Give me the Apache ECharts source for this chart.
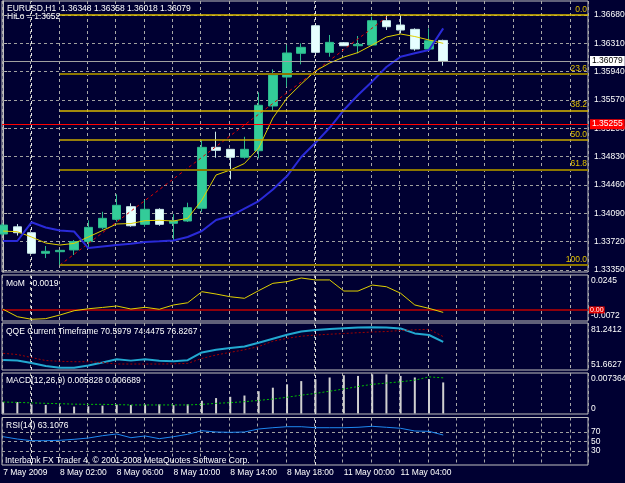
<!DOCTYPE html>
<html>
<head>
<meta charset="utf-8">
<script src="https://cdn.jsdelivr.net/npm/echarts@6/dist/echarts.min.js"></script>
<style>
html,body{margin:0;padding:0;background:#000032;}
#chart{width:625px;height:483px;}
</style>
</head>
<body>
<div id="chart"></div>
<script>
// EURUSD H1, one entry per bar
var timeLabels = ['7 May 2009','8 May 02:00','8 May 06:00','8 May 10:00','8 May 14:00','8 May 18:00','11 May 00:00','11 May 04:00'];
var labelBars = [0,4,8,12,16,20,24,28];
var gridStep = 2;
var separatorBars = [2,22];

var opens  = [1.33820,1.33914,1.33837,1.33568,1.33589,1.33612,1.33721,1.33902,1.34012,1.34177,1.33946,1.34142,1.33960,1.33990,1.34156,1.34952,1.34926,1.34822,1.34908,1.35492,1.35870,1.36180,1.36540,1.36193,1.36318,1.36279,1.36288,1.36606,1.36549,1.36493,1.36236,1.36348];
var closes = [1.33937,1.33837,1.33569,1.33594,1.33607,1.33721,1.33907,1.34025,1.34195,1.33928,1.34143,1.33946,1.33990,1.34164,1.34952,1.34913,1.34822,1.34926,1.35501,1.35896,1.36184,1.36258,1.36193,1.36323,1.36279,1.36297,1.36606,1.36527,1.36484,1.36236,1.36344,1.36079];
var lows   = [1.33800,1.33800,1.33559,1.33506,1.33415,1.33546,1.33627,1.33881,1.33981,1.33915,1.33915,1.33928,1.33742,1.33977,1.34111,1.34816,1.34534,1.34803,1.34809,1.35430,1.35744,1.36036,1.36180,1.36135,1.36275,1.36180,1.36279,1.36484,1.36441,1.36214,1.36223,1.36018];
var highs  = [1.33960,1.33950,1.33846,1.33663,1.33610,1.33742,1.33999,1.34111,1.34338,1.34221,1.34264,1.34156,1.34081,1.34229,1.35048,1.35156,1.34930,1.35090,1.35670,1.35971,1.36288,1.36310,1.36549,1.36419,1.36327,1.36406,1.36658,1.36667,1.36680,1.36506,1.36506,1.36358];

var maFast = [1.33859,1.33850,1.33781,1.33702,1.33676,1.33698,1.33781,1.33866,1.33951,1.33957,1.33994,1.33999,1.33990,1.34025,1.34264,1.34591,1.34656,1.34741,1.34943,1.35335,1.35596,1.35779,1.35949,1.36053,1.36131,1.36190,1.36288,1.36393,1.36432,1.36399,1.36354,1.36310];
var maSlow = [1.33729,1.33729,1.33973,1.33905,1.33866,1.33853,1.33637,1.33657,1.33676,1.33693,1.33715,1.33724,1.33735,1.33781,1.33859,1.34003,1.34055,1.34153,1.34251,1.34401,1.34577,1.34826,1.35011,1.35207,1.35439,1.35635,1.35813,1.36001,1.36135,1.36180,1.36223,1.36506];
var trendLine = [[4,1.33415],[27,1.36650]];

var fibHigh = 1.36680, fibLow = 1.33415;
var fibLevels = [0,23.6,38.2,50,61.8,100];
var priceTicks = [1.33350,1.33720,1.34090,1.34460,1.34830,1.35200,1.35570,1.35940,1.36310,1.36680];
var bidPrice = 1.36079, alertPrice = 1.35255;

var mom = [0.0005,-0.0052,-0.0072,-0.0067,-0.0039,-0.0006,0.0009,0.0019,0.0030,0.0007,0.0020,0.0005,0.0038,0.0055,0.0140,0.0122,0.0101,0.0089,0.0148,0.0204,0.0217,0.0245,0.0230,0.0230,0.0145,0.0145,0.0191,0.0178,0.0128,0.0038,0.0012,-0.0019];
var momLabels = ['0.0245','-0.0072'];

var qqeMain = [57.30,56.94,55.11,52.91,51.66,51.66,53.28,55.47,57.82,56.86,57.82,56.79,56.43,57.16,62.87,64.77,66.09,67.19,69.89,72.90,75.82,78.17,79.26,80.00,80.51,81.02,81.24,81.09,80.36,76.80,75.60,70.5979];
var qqeSignal = [62.21,61.33,59.13,56.94,56.35,56.06,56.06,55.47,54.37,54.37,54.37,54.37,54.52,54.81,58.48,60.96,62.94,64.77,67.19,71.07,73.19,74.73,75.60,76.19,76.70,77.29,77.80,78.17,78.90,79.41,79.78,74.4475];
var qqeLabels = ['81.2412','51.6627'];

var macdHist = [0.00215,0.00215,0.00169,0.00160,0.00134,0.00129,0.00134,0.00147,0.00166,0.00160,0.00166,0.00172,0.00156,0.00172,0.00239,0.00289,0.00313,0.00337,0.00418,0.00484,0.00547,0.00608,0.00644,0.00676,0.00718,0.00705,0.007364,0.00735,0.00705,0.00676,0.00644,0.005828];
var macdSignal = [0.00215,0.00208,0.00199,0.00190,0.00184,0.00175,0.00171,0.00171,0.00166,0.00160,0.00160,0.00160,0.00160,0.00160,0.00171,0.00190,0.00203,0.00221,0.00245,0.00271,0.00304,0.00344,0.00377,0.00418,0.00460,0.00506,0.00547,0.00571,0.00595,0.00626,0.00687,0.006689];
var macdLabels = ['0.007364','0'];

var rsi = [59.6,54.7,51.2,51.2,52.0,54.1,56.8,61.7,65.3,57.5,61.1,55.4,59.6,64.6,72.2,69.5,68.8,69.5,75.8,78.5,80.6,80.6,78.5,78.5,78.5,79.4,81.5,79.4,77.3,71.6,70.9,63.1076];
var rsiLevels = [30,50,70];
var rsiLabels = ['100','70','50','30','0'];

var font = 'Liberation Sans';
var fs = 8.5;
var xMin = -0.08, xMax = 41.2;

// panel layout: top, height, y min, y max
var panels = [
  [1, 271, 1.33324, 1.36863],
  [275, 46, -0.0085, 0.0268],
  [323, 47, 50.0, 84.4],
  [373, 41, -0.0001, 0.0076],
  [417.5, 47.5, 0, 100]
];

function pairs(arr) { return arr.map(function (v, i) { return [i, v]; }); }
function nearestLabel(pos, txt) {
  return function (v) {
    var best = 0;
    for (var k = 1; k < pos.length; k++) if (Math.abs(pos[k] - v) < Math.abs(pos[best] - v)) best = k;
    return txt[best];
  };
}
function dashed(color) { return {color: color, type: [3,3], width: 1}; }
// day separators and horizontal levels as markLines behind the data
function gridSeries(g, yVals) {
  var lo = panels[g][2], hi = panels[g][3];
  var data = separatorBars.map(function (b) {
      return [{coord: [b, lo], lineStyle: dashed('#e4e4e4')}, {coord: [b, hi]}];
    })
    .concat((yVals || []).map(function (v) { return {yAxis: v, lineStyle: dashed('#a0a0a0')}; }));
  return {
    type: 'line', xAxisIndex: g, yAxisIndex: g, data: [], z: 1,
    markLine: {silent: true, z: 1, precision: 6, symbol: ['none','none'], label: {show: false}, data: data}
  };
}

var grids = panels.map(function (p) {
  return {left: 2, top: p[0], width: 586, height: p[1], show: true, outerBoundsMode: 'none',
          borderColor: '#c0c0c0', borderWidth: 1, backgroundColor: 'transparent'};
});
var xAxes = panels.map(function (p, g) {
  return {
    type: 'value', gridIndex: g, min: xMin, max: xMax,
    axisLine: {show: false}, axisTick: {show: false}, splitLine: {show: false},
    axisLabel: g === 4 ? {
      show: true, customValues: labelBars, align: 'left', margin: 3, hideOverlap: false,
      color: '#ffffff', fontSize: fs, fontFamily: font,
      formatter: function (v) { return timeLabels[labelBars.indexOf(Math.round(v))]; }
    } : {show: false}
  };
}).concat(panels.map(function (p, g) {
  // helper axis counted from the left edge, only for the vertical dashed grid every two bars
  return {
    type: 'value', gridIndex: g, min: 0, max: xMax - xMin, interval: gridStep, position: 'top',
    axisLine: {show: false}, axisTick: {show: false}, axisLabel: {show: false},
    splitLine: {show: true, lineStyle: {color: '#a8a8a8', type: [3,3], width: 1}}
  };
}));
function subAxis(g, labelAt, labelTxt) {
  return {
    type: 'value', gridIndex: g, position: 'right', min: panels[g][2], max: panels[g][3],
    axisLine: {show: false}, axisTick: {show: false}, splitLine: {show: false},
    axisLabel: {customValues: labelAt, formatter: nearestLabel(labelAt, labelTxt), hideOverlap: false,
                color: '#ffffff', fontSize: fs, fontFamily: font, margin: 3}
  };
}
var yAxes = [
  {
    type: 'value', gridIndex: 0, position: 'right', min: panels[0][2], max: panels[0][3],
    axisLine: {show: true, lineStyle: {color: '#c0c0c0'}},
    axisTick: {show: true, length: 4, customValues: priceTicks, lineStyle: {color: '#c0c0c0'}},
    axisLabel: {customValues: priceTicks, formatter: function (v) { return v.toFixed(5); }, hideOverlap: false,
                color: '#ffffff', fontSize: fs, fontFamily: font, margin: 6},
    splitLine: {show: false}
  },
  subAxis(1, [0.0222,-0.0047], momLabels),
  subAxis(2, [79.28,53.66], qqeLabels),
  subAxis(3, [0.00649,0.00083], macdLabels),
  subAxis(4, [88.4,70,50,30,12.6], rsiLabels)
];

var fibColors = ['#e0c000','#8c7600','#d8b800','#c8a800','#8c7600','#8c7600'];
var fibWidths = [1.5,2,1.5,1.5,2,2];
var fibMarks = fibLevels.map(function (lv, k) {
  var p = fibHigh - lv / 100 * (fibHigh - fibLow);
  return [{coord: [4, p], lineStyle: {color: fibColors[k], width: fibWidths[k], type: 'solid'},
           label: {show: true, position: 'insideEndTop', formatter: lv.toFixed(1), distance: 1,
                   color: '#e0c000', fontSize: fs, fontFamily: font}},
          {coord: [xMax, p]}];
});
var mainMarks = fibMarks.concat([
  {yAxis: alertPrice, lineStyle: {color: '#ff0000', width: 1, type: 'solid'},
   label: {show: true, position: 'end', formatter: alertPrice.toFixed(5), distance: 2,
           backgroundColor: '#ff0000', color: '#ffffff', padding: [1,2,0,2], fontSize: fs, fontFamily: font}},
  {yAxis: bidPrice, lineStyle: {color: '#a0a0a0', width: 1, type: 'solid'},
   label: {show: true, position: 'end', formatter: bidPrice.toFixed(5), distance: 2,
           backgroundColor: '#ffffff', color: '#000000', padding: [1,2,0,2], fontSize: fs, fontFamily: font}}
]);

function txt(text, left, top) {
  return {text: text, left: left, top: top, padding: 0,
          textStyle: {color: '#ffffff', fontSize: fs, fontWeight: 'normal', fontFamily: font}};
}

var option = {
  backgroundColor: '#000032',
  animation: false,
  title: [
    txt('EURUSD,H1  1.36348 1.36358 1.36018 1.36079', 7, 4),
    txt('HiLo = 1.3652', 7, 12),
    txt('MoM  -0.0019', 6, 279),
    txt('QQE Current Timeframe 70.5979 74.4475 76.8267', 6, 327),
    txt('MACD(12,26,9) 0.005828 0.006689', 6, 376),
    txt('RSI(14) 63.1076', 6, 421),
    txt('Interbank FX Trader 4, \u00a9 2001-2008 MetaQuotes Software Corp.', 5, 456)
  ],
  grid: grids,
  xAxis: xAxes,
  yAxis: yAxes,
  series: [
    gridSeries(0, priceTicks),
    gridSeries(1),
    gridSeries(2),
    gridSeries(3),
    gridSeries(4, rsiLevels),
    {
      type: 'candlestick', xAxisIndex: 0, yAxisIndex: 0, barWidth: 9, z: 2,
      encode: {x: 0, y: [1,2,3,4]},
      data: opens.map(function (o, i) { return [i, o, closes[i], lows[i], highs[i]]; }),
      itemStyle: {color: '#33cc99', color0: '#e6ffff', borderColor: '#2cb88c', borderColor0: '#c8e8e8', borderWidth: 1}
    },
    {type: 'line', xAxisIndex: 0, yAxisIndex: 0, data: pairs(maFast), showSymbol: false, z: 4,
     lineStyle: {color: '#e0d000', width: 1}},
    {type: 'line', xAxisIndex: 0, yAxisIndex: 0, data: pairs(maSlow), showSymbol: false, z: 4,
     lineStyle: {color: '#2a2ad8', width: 2}},
    {type: 'line', xAxisIndex: 0, yAxisIndex: 0, data: trendLine, showSymbol: false, z: 3,
     lineStyle: {color: '#e00000', width: 1, type: [3,3]},
     markLine: {silent: true, precision: 6, symbol: ['none','none'], data: mainMarks}},
    {type: 'line', xAxisIndex: 1, yAxisIndex: 1, data: pairs(mom), showSymbol: false, z: 3,
     lineStyle: {color: '#e0d000', width: 1},
     markLine: {silent: true, z: 2, precision: 6, symbol: ['none','none'], data: [
       {yAxis: 0, lineStyle: {color: '#c00000', width: 1.5, type: 'solid'},
        label: {show: true, position: 'end', formatter: '0.00', distance: 1, backgroundColor: '#e00000',
                color: '#ffffff', padding: [0,1], fontSize: 7, fontFamily: font}}
     ]}},
    {type: 'line', xAxisIndex: 2, yAxisIndex: 2, data: pairs(qqeMain), showSymbol: false, z: 3,
     lineStyle: {color: '#22a8d0', width: 2}},
    {type: 'line', xAxisIndex: 2, yAxisIndex: 2, data: pairs(qqeSignal), showSymbol: false, z: 3,
     lineStyle: {color: '#a00000', width: 1, type: [2,2]}},
    {type: 'bar', xAxisIndex: 3, yAxisIndex: 3, data: pairs(macdHist), barWidth: 2, z: 2,
     itemStyle: {color: '#d0d0d0'}},
    {type: 'line', xAxisIndex: 3, yAxisIndex: 3, data: pairs(macdSignal), showSymbol: false, z: 3,
     lineStyle: {color: '#00c000', width: 1, type: [2,2]}},
    {type: 'line', xAxisIndex: 4, yAxisIndex: 4, data: pairs(rsi), showSymbol: false, z: 3,
     lineStyle: {color: '#1e88f0', width: 1}}
  ]
};

var chart = echarts.init(document.getElementById('chart'));
chart.setOption(option);
</script>
</body>
</html>
